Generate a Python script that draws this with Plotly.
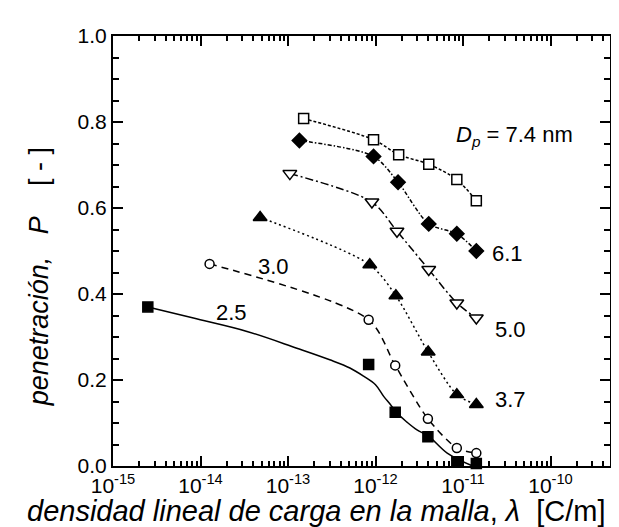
import plotly.graph_objects as go

# ---- data ----
lam_74 = [1.51e-13, 9.5e-13, 1.84e-12, 4.06e-12, 8.5e-12, 1.42e-11]
P_74 = [0.808, 0.759, 0.724, 0.702, 0.666, 0.617]

lam_61 = [1.35e-13, 9.5e-13, 1.81e-12, 4.06e-12, 8.5e-12, 1.42e-11]
P_61 = [0.757, 0.720, 0.660, 0.563, 0.540, 0.500]

lam_50 = [1.05e-13, 9.1e-13, 1.76e-12, 4.06e-12, 8.5e-12, 1.42e-11]
P_50 = [0.680, 0.614, 0.546, 0.457, 0.379, 0.344]

lam_37 = [4.8e-14, 8.6e-13, 1.71e-12, 4.0e-12, 8.5e-12, 1.42e-11]
P_37 = [0.578, 0.468, 0.396, 0.265, 0.166, 0.143]

lam_30 = [1.27e-14, 8.35e-13, 1.68e-12, 3.97e-12, 8.5e-12, 1.42e-11]
P_30 = [0.470, 0.340, 0.234, 0.110, 0.042, 0.030]

lam_25 = [2.5e-15, 8.35e-13, 1.68e-12, 3.97e-12, 8.5e-12, 1.42e-11]
P_25 = [0.370, 0.236, 0.125, 0.068, 0.010, 0.006]

# fitted curve for 2.5 nm
fit_lam_25 = [2.5e-15, 8.3e-15, 3.4e-14, 1.26e-13, 3.0e-13, 5.1e-13, 7.3e-13, 1.0e-12,
              1.24e-12, 1.48e-12, 1.76e-12, 2.29e-12, 2.98e-12, 4.06e-12, 6.6e-12, 1.29e-11]
fit_P_25 = [0.370, 0.344, 0.313, 0.274, 0.247, 0.228, 0.209, 0.189,
            0.162, 0.143, 0.123, 0.102, 0.084, 0.069, 0.030, 0.0]

x_tickvals = [1e-15, 1e-14, 1e-13, 1e-12, 1e-11, 1e-10]
x_ticktext = ["10<sup>-15</sup>", "10<sup>-14</sup>", "10<sup>-13</sup>",
              "10<sup>-12</sup>", "10<sup>-11</sup>", "10<sup>-10</sup>"]
y_tickvals = [0.0, 0.2, 0.4, 0.6, 0.8, 1.0]
y_ticktext = ["0.0", "0.2", "0.4", "0.6", "0.8", "1.0"]

x_minor = [m * 10.0 ** e for e in range(-15, -9) for m in range(2, 10)]
y_minor = [round(i * 0.05, 2) for i in range(21) if i % 4 != 0]

X_RANGE = [-15.0, -9.32]
Y_RANGE = [0, 1.0]

FONT = "Liberation Sans, Arial, sans-serif"
fig = go.Figure()

def add_series(x, y, symbol, size, dash, filled=True, line=True):
    fig.add_trace(go.Scatter(
        x=x, y=y,
        mode="lines+markers" if line else "markers",
        line=dict(color="black", width=1.5, dash=dash, shape="spline", smoothing=0.8),
        marker=dict(symbol=symbol, size=size,
                    color="black" if filled else "white",
                    line=dict(color="black", width=1.5)),
        showlegend=False, cliponaxis=False))

add_series(lam_74, P_74, "square", 10, "3px,2px", filled=False)
add_series(lam_61, P_61, "diamond", 11, "4px,2px,1.5px,2px", filled=True)
add_series(lam_50, P_50, "triangle-down", 12, "8px,3px,2px,3px", filled=False)
add_series(lam_37, P_37, "triangle-up", 12, "2px,3px", filled=True)
add_series(lam_30, P_30, "circle", 9, "7px,5px", filled=False)
fig.add_trace(go.Scatter(x=fit_lam_25, y=fit_P_25, mode="lines",
                         line=dict(color="black", width=1.5, shape="spline", smoothing=1.0),
                         showlegend=False, hoverinfo="skip"))
add_series(lam_25, P_25, "square", 10, "solid", filled=True, line=False)

# invisible trace carrying the minor-tick axes
fig.add_trace(go.Scatter(x=lam_25[:1], y=P_25[:1], xaxis="x2", yaxis="y2", mode="markers",
                         marker=dict(opacity=0), showlegend=False, hoverinfo="skip"))

ann = dict(showarrow=False, font=dict(family=FONT, size=22, color="black"))
annotations = [
    dict(x=-11.1, y=0.767, xref="x", yref="y", xanchor="left", yanchor="middle",
         text="<i>D<sub>p</sub></i> = 7.4 nm", **ann),
    dict(x=-10.69, y=0.495, xref="x", yref="y", xanchor="left", yanchor="middle", text="6.1", **ann),
    dict(x=-10.66, y=0.317, xref="x", yref="y", xanchor="left", yanchor="middle", text="5.0", **ann),
    dict(x=-10.66, y=0.154, xref="x", yref="y", xanchor="left", yanchor="middle", text="3.7", **ann),
    dict(x=-13.17, y=0.463, xref="x", yref="y", xanchor="center", yanchor="middle", text="3.0", **ann),
    dict(x=-13.65, y=0.356, xref="x", yref="y", xanchor="center", yanchor="middle", text="2.5", **ann),
    dict(x=0.41, y=-0.105, xref="paper", yref="paper", xanchor="center", yanchor="middle",
         text="<i>densidad lineal de carga en la malla</i>, <i>λ</i>&nbsp;&nbsp;[C/m]",
         showarrow=False, font=dict(family=FONT, size=29, color="black")),
    dict(x=-0.15, y=0.44, xref="paper", yref="paper", xanchor="center", yanchor="middle",
         textangle=-90,
         text="<i>penetración,</i>&nbsp;&nbsp;&nbsp;<i>P</i>&nbsp;&nbsp;&nbsp;&nbsp;[&nbsp;-&nbsp;]",
         showarrow=False, font=dict(family=FONT, size=27, color="black")),
]

fig.update_layout(
    width=619, height=527,
    margin=dict(l=105, r=17, t=28, b=69),
    paper_bgcolor="white", plot_bgcolor="white",
    font=dict(family=FONT, size=21, color="black"),
    annotations=annotations,
    xaxis=dict(type="log", range=X_RANGE, showgrid=False, zeroline=False,
               showline=True, linecolor="black", linewidth=2, mirror="ticks",
               ticks="inside", ticklen=10, tickwidth=1.5, tickcolor="black",
               tickmode="array", tickvals=x_tickvals, ticktext=x_ticktext,
               tickfont=dict(family=FONT, size=21)),
    yaxis=dict(range=Y_RANGE, showgrid=False, zeroline=False,
               showline=True, linecolor="black", linewidth=2, mirror="ticks",
               ticks="inside", ticklen=10, tickwidth=1.5, tickcolor="black",
               tickmode="array", tickvals=y_tickvals, ticktext=y_ticktext,
               tickfont=dict(family=FONT, size=21)),
    xaxis2=dict(type="log", range=X_RANGE, overlaying="x", anchor="y", side="bottom",
                showgrid=False, zeroline=False, showline=False, mirror="ticks",
                ticks="inside", ticklen=5, tickwidth=1.5, tickcolor="black",
                tickmode="array", tickvals=x_minor, showticklabels=False),
    yaxis2=dict(range=Y_RANGE, overlaying="y", anchor="x", side="left",
                showgrid=False, zeroline=False, showline=False, mirror="ticks",
                ticks="inside", ticklen=6, tickwidth=1.5, tickcolor="black",
                tickmode="array", tickvals=y_minor, showticklabels=False),
)

fig.write_html("out.html")
